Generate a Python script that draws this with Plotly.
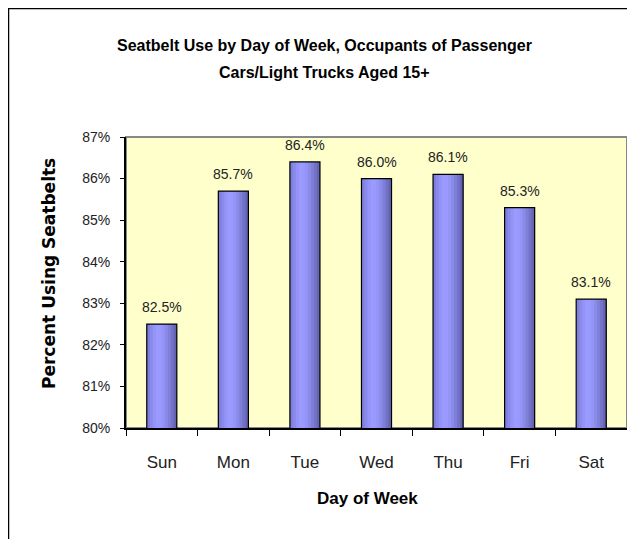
import plotly.graph_objects as go

days = ["Sun", "Mon", "Tue", "Wed", "Thu", "Fri", "Sat"]
pct_using = [82.5, 85.7, 86.4, 86.0, 86.1, 85.3, 83.1]
y_ticks = [80, 81, 82, 83, 84, 85, 86, 87]
y_tick_labels = ["80%", "81%", "82%", "83%", "84%", "85%", "86%", "87%"]

FONT = "Liberation Sans, Arial, sans-serif"

# horizontal shading of each bar (left -> right), emulating the gradient fill
strip_colors = ["#7E7EDE", "#8A8AEC", "#9494F8", "#9A9AFF", "#9999FE",
                "#9494F6", "#8A8AE8", "#7F7FD8", "#7272C6", "#6464B2"]
BAR_W = 0.42

fig = go.Figure()
n = len(strip_colors)
sw = BAR_W / n
for i, c in enumerate(strip_colors):
    fig.add_trace(go.Bar(
        x=days, y=pct_using, width=BAR_W - i * sw, offset=-BAR_W / 2 + i * sw,
        marker=dict(color=c, line=dict(width=0)),
        hoverinfo="skip",
    ))
# outline
fig.add_trace(go.Bar(
    x=days, y=pct_using, width=BAR_W, offset=-BAR_W / 2,
    marker=dict(color="rgba(0,0,0,0)", line=dict(color="black", width=1.2)),
))

annotations = [
    dict(x=d, y=v, xref="x", yref="y", text=f"{v:.1f}%", showarrow=False,
         yanchor="bottom", yshift=7, font=dict(family=FONT, size=14, color="#222"))
    for d, v in zip(days, pct_using)
]

PL, PR, PT, PB = 118, 16, 129, 119
PW = 635 - PL - PR
PH = 539 - PT - PB

def px_x(fx):
    return (fx - PL) / PW

def px_y(fy):
    return (539 - PB - fy) / PH

title_font = dict(family=FONT, size=16, color="black")
annotations += [
    dict(xref="paper", yref="paper", x=px_x(316), y=px_y(37), showarrow=False,
         text="<b>Seatbelt Use by Day of Week, Occupants of Passenger</b>",
         font=title_font, xanchor="center", yanchor="middle"),
    dict(xref="paper", yref="paper", x=px_x(316), y=px_y(65), showarrow=False,
         text="<b>Cars/Light Trucks Aged 15+</b>",
         font=title_font, xanchor="center", yanchor="middle"),
    dict(xref="paper", yref="paper", x=px_x(41), y=px_y(266), showarrow=False,
         text="<b>Percent Using Seatbelts</b>", textangle=-90,
         font=dict(family="DejaVu Sans, Liberation Sans, sans-serif", size=17, color="black"),
         xanchor="center", yanchor="middle"),
    dict(xref="paper", yref="paper", x=px_x(359), y=px_y(490), showarrow=False,
         text="<b>Day of Week</b>",
         font=dict(family=FONT, size=17, color="black"),
         xanchor="center", yanchor="middle"),
]

fig.update_layout(
    width=635, height=539,
    margin=dict(l=PL, r=PR, t=PT, b=PB, autoexpand=False),
    paper_bgcolor="white",
    plot_bgcolor="#FFFFCC",
    showlegend=False,
    barmode="overlay",
    font=dict(family=FONT, size=14, color="#222"),
    xaxis=dict(
        showline=True, linecolor="black", linewidth=2,
        ticks="outside", tickson="boundaries", ticklen=6, tickcolor="black",
        tickfont=dict(size=17), ticklabelstandoff=18,
        showgrid=False, automargin=False,
    ),
    yaxis=dict(
        range=[80, 87], tickvals=y_ticks, ticktext=y_tick_labels,
        showline=True, linecolor="black", linewidth=2,
        ticks="outside", ticklen=4, tickcolor="black",
        tickfont=dict(size=14), ticklabelstandoff=7,
        showgrid=False, zeroline=False, automargin=False,
    ),
    annotations=annotations,
    shapes=[
        dict(type="rect", xref="paper", yref="paper", x0=0, x1=1, y0=0, y1=1,
             line=dict(color="#888888", width=2), fillcolor="rgba(0,0,0,0)", layer="below"),
        dict(type="rect", xref="paper", yref="paper",
             x0=px_x(0.5), x1=px_x(700), y0=px_y(700), y1=px_y(0.5),
             line=dict(color="black", width=1.5), fillcolor="rgba(0,0,0,0)"),
    ],
)

fig.write_html("out.html")
